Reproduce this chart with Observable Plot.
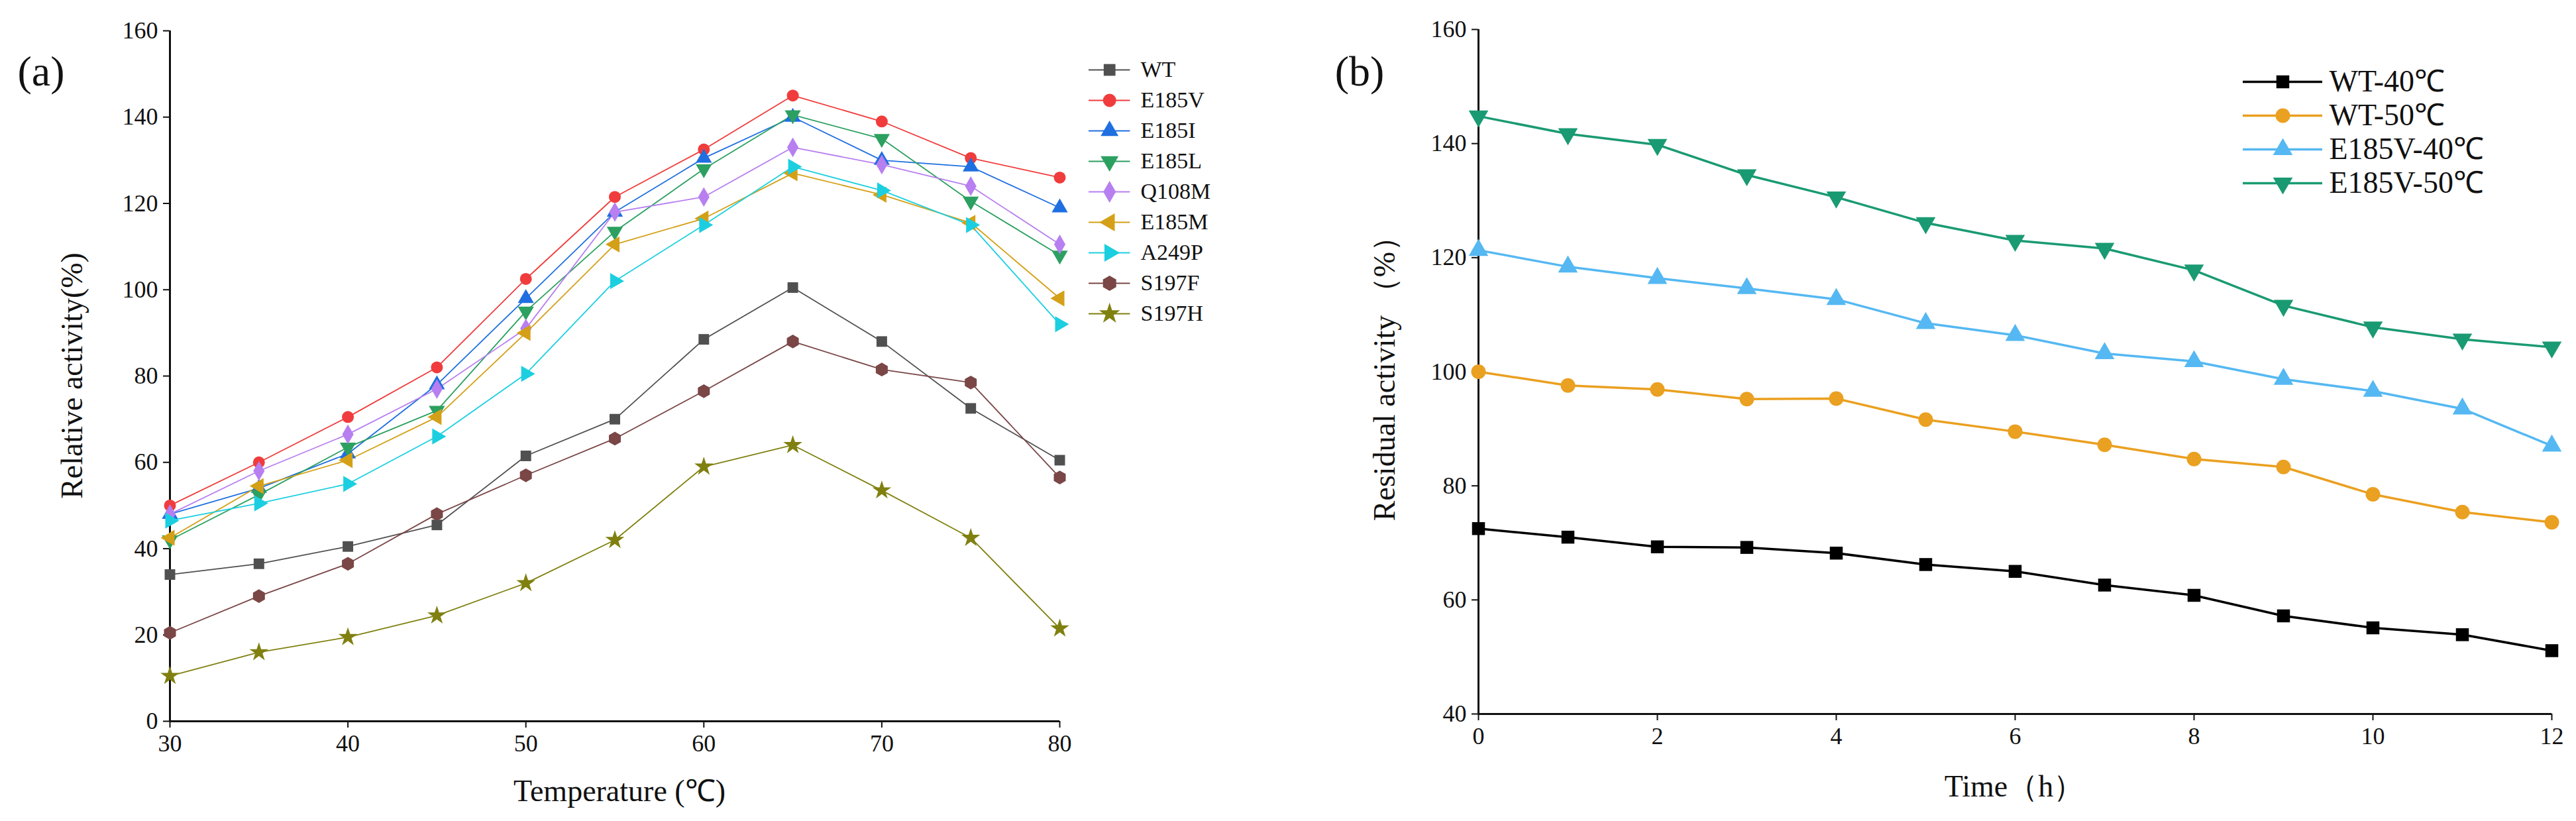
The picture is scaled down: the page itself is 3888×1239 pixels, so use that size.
<!DOCTYPE html>
<html><head><meta charset="utf-8">
<script src="https://cdn.jsdelivr.net/npm/d3@7"></script>
<script src="https://cdn.jsdelivr.net/npm/@observablehq/plot@0.6"></script>
<style>
body{margin:0;background:#fff;font-family:"Liberation Serif",serif;}
#wrap{position:relative;width:3888px;height:1239px;overflow:hidden;}
.lbl{font-family:"Liberation Serif",serif;color:#111;white-space:nowrap;}
</style></head><body>
<div id="wrap"></div>
<script>
// ---- Panel (a) data ----
const temps = [30,35,40,45,50,55,60,65,70,75,80];
const seriesA = ["WT","E185V","E185I","E185L","Q108M","E185M","A249P","S197F","S197H"];
const WT    = [34,36.5,40.5,45.5,61.5,70,88.5,100.5,88,72.5,60.5];
const E185V = [50,60,70.5,82,102.5,121.5,132.5,145,139,130.5,126];
const E185I = [48,54,62,78,98,118,130.5,140,130,128.5,119];
const E185L = [42,52.5,63.5,72,95,113.5,128,140.5,135,120.5,108];
const Q108M = [48,58,66.5,77,91,118,121.5,133,129,124,110.5];
const E185M = [42.5,54.5,60.5,70.5,90,110.5,116.5,127,122,115.5,98];
const A249P = [46.5,50.5,55,66,80.5,102,115,128.5,123,115,92];
const S197F = [20.5,29,36.5,48,57,65.5,76.5,88,81.5,78.5,56.5];
const S197H = [10.5,16,19.5,24.5,32,42,59,64,53.5,42.5,21.5];
const colorsA = ["#505050","#f03c3c","#1f6fe0","#2ca060","#b77ff0","#d4a017","#1ccfe0","#7a4646","#808010"];
const symbolsA = ["square","circle","triangle","triangle","diamond","triangle","triangle","hexagon","star"];
const rotA = [0,0,0,180,0,-90,90,0,0];
const yTicksA = [0,20,40,60,80,100,120,140,160];
const xTicksA = [30,40,50,60,70,80];

// ---- Panel (b) data ----
const hours = [0,1,2,3,4,5,6,7,8,9,10,11,12];
const seriesB = ["WT-40℃","WT-50℃","E185V-40℃","E185V-50℃"];
const WT40 = [72.5,71,69.3,69.2,68.2,66.2,65,62.6,60.8,57.2,55.1,53.9,51.1];
const WT50 = [100,97.6,96.9,95.2,95.3,91.6,89.5,87.2,84.7,83.3,78.5,75.4,73.6];
const V40  = [121.3,118.4,116.4,114.6,112.7,108.5,106.4,103.2,101.8,98.7,96.6,93.5,87];
const V50  = [144.8,141.7,139.8,134.5,130.6,126.1,123,121.6,117.8,111.6,107.8,105.7,104.3];
const colorsB = ["#000000","#eaa020","#55b8f2","#1a9a72"];
const symbolsB = ["square","circle","triangle","triangle"];
const rotB = [0,0,0,180];
const yTicksB = [40,60,80,100,120,140,160];
const xTicksB = [0,2,4,6,8,10,12];

const valsA = [WT,E185V,E185I,E185L,Q108M,E185M,A249P,S197F,S197H];
const dataA = seriesA.flatMap((s,i)=>temps.map((t,j)=>({s,x:t,y:valsA[i][j],rot:rotA[i]})));
const valsB = [WT40,WT50,V40,V50];
const dataB = seriesB.flatMap((s,i)=>hours.map((t,j)=>({s,x:t,y:valsB[i][j],rot:rotB[i]})));

const wrap = document.getElementById("wrap");
function place(el,left,top){el.style.position="absolute";el.style.left=left+"px";el.style.top=top+"px";wrap.appendChild(el);return el;}
function text(str,left,top,size,rotate){const d=document.createElement("div");d.className="lbl";d.textContent=str;d.style.fontSize=size+"px";place(d,left,top);d.style.transform=rotate?"translate(-50%,-50%) rotate(-90deg)":"translate(-50%,-50%)";return d;}

const font = "Liberation Serif";
const st = {fontFamily:font,color:"#111",background:"transparent"};
// Panel a
const pa = Plot.plot({
  width:1660,height:1239,marginLeft:256,marginRight:61,marginTop:46,marginBottom:151,
  style:st,
  x:{domain:[30,80]}, y:{domain:[0,160]},
  color:{domain:seriesA,range:colorsA},
  symbol:{domain:seriesA,range:symbolsA},
  marks:[
    Plot.axisY({ticks:yTicksA,tickSize:10,tickPadding:8,label:null,strokeWidth:2,fontSize:36}),
    Plot.axisX({ticks:xTicksA,tickSize:10,tickPadding:10,label:null,strokeWidth:2,fontSize:36}),
    Plot.ruleY([0],{strokeWidth:3}),
    Plot.ruleX([30],{strokeWidth:3}),
    Plot.line(dataA,{x:"x",y:"y",z:"s",stroke:"s",strokeWidth:1.8}),
    Plot.dot(dataA,{x:"x",y:"y",fill:"s",symbol:"s",rotate:"rot",r:9,stroke:"none"})
  ]
});
place(pa,0,0);
const legA = Plot.plot({
  width:260,height:470,marginLeft:0,marginRight:0,marginTop:25,marginBottom:25,
  style:st,
  x:{domain:[0,1],axis:null}, y:{domain:seriesA,axis:null,type:"point"},
  color:{domain:seriesA,range:colorsA}, symbol:{domain:seriesA,range:symbolsA},
  marks:[
    Plot.ruleY(seriesA,{y:d=>d,x1:0,x2:0.24,stroke:d=>d,strokeWidth:2}),
    Plot.dot(seriesA,{y:d=>d,x:0.12,fill:d=>d,symbol:d=>d,rotate:(d,i)=>rotA[i],r:10}),
    Plot.text(seriesA,{y:d=>d,x:0.3,text:d=>d,textAnchor:"start",fill:"#111",fontSize:34})
  ]
});
place(legA,1643,54);
text("(a)",62,108,64);
text("Relative activity(%)",108,567,46,true);
text("Temperature (℃)",935,1191,46);

// Panel b
const pb = Plot.plot({
  width:1938,height:1239,marginLeft:281,marginRight:37,marginTop:44,marginBottom:162,
  style:st,
  x:{domain:[0,12]}, y:{domain:[40,160]},
  color:{domain:seriesB,range:colorsB},
  symbol:{domain:seriesB,range:symbolsB},
  marks:[
    Plot.axisY({ticks:yTicksB,tickSize:10,tickPadding:8,label:null,strokeWidth:2,fontSize:36}),
    Plot.axisX({ticks:xTicksB,tickSize:10,tickPadding:10,label:null,strokeWidth:2,fontSize:36}),
    Plot.ruleY([40],{strokeWidth:3}),
    Plot.ruleX([0],{strokeWidth:3}),
    Plot.line(dataB,{x:"x",y:"y",z:"s",stroke:"s",strokeWidth:3.5}),
    Plot.dot(dataB,{x:"x",y:"y",fill:"s",symbol:"s",rotate:"rot",r:11,stroke:"none"})
  ]
});
place(pb,1950,0);
const legB = Plot.plot({
  width:500,height:300,marginLeft:0,marginRight:0,marginTop:30,marginBottom:65,
  style:st,
  x:{domain:[0,1],axis:null}, y:{domain:seriesB,axis:null,type:"point"},
  color:{domain:seriesB,range:colorsB}, symbol:{domain:seriesB,range:symbolsB},
  marks:[
    Plot.ruleY(seriesB,{y:d=>d,x1:0,x2:0.24,stroke:d=>d,strokeWidth:3.5}),
    Plot.dot(seriesB,{y:d=>d,x:0.12,fill:d=>d,symbol:d=>d,rotate:(d,i)=>rotB[i],r:11}),
    Plot.text(seriesB,{y:d=>d,x:0.26,text:d=>d,textAnchor:"start",fill:"#111",fontSize:46})
  ]
});
place(legB,3385,67);
text("(b)",2052,108,64);
text("Residual activity （%）",2090,560,46,true);
text("Time（h）",3040,1187,46);
</script>
</body></html>
